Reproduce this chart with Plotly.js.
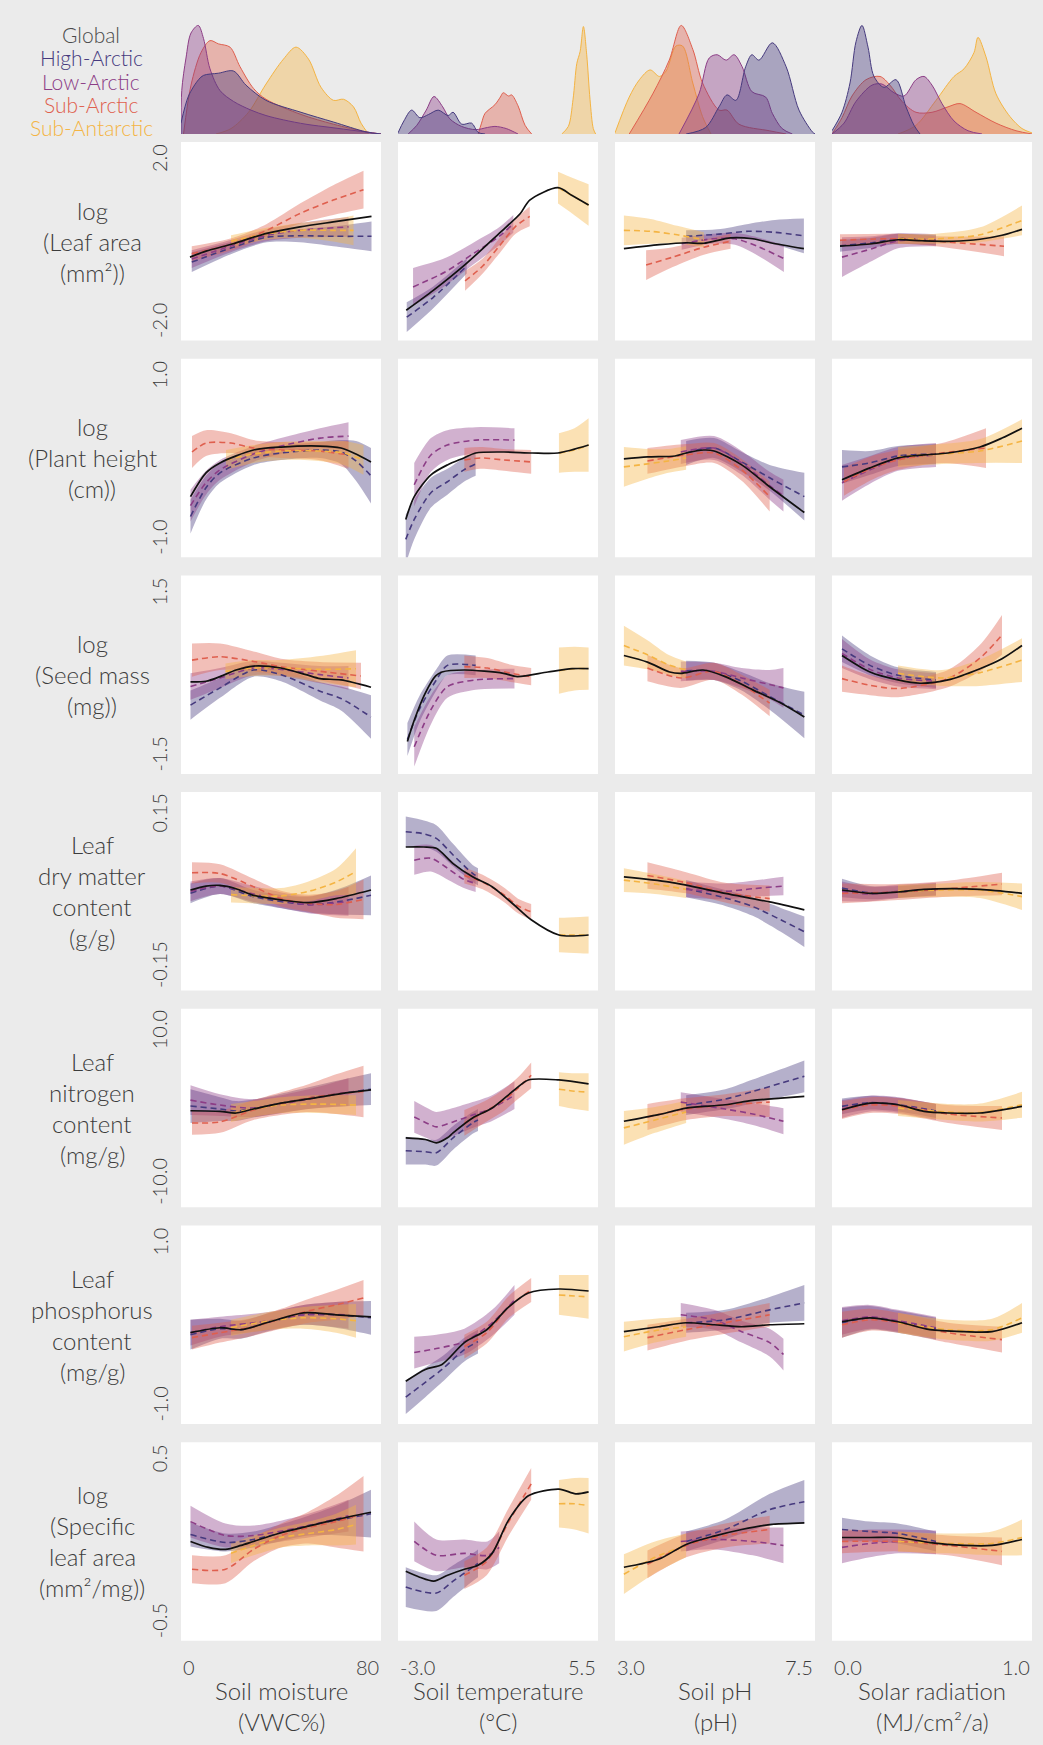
<!DOCTYPE html>
<html><head><meta charset="utf-8">
<script src="https://cdn.plot.ly/plotly-3.0.1.min.js"></script>
<style>html,body{margin:0;padding:0;background:#ebebeb;}#chart{width:1043px;height:1745px;}</style>
</head><body><div id="chart"></div>
<script>
// ---------------- labels ----------------
const seriesNames = ['Global','High-Arctic','Low-Arctic','Sub-Arctic','Sub-Antarctic'];
const rowLabels = [
  ['log','(Leaf area','(mm²))'],
  ['log','(Plant height','(cm))'],
  ['log','(Seed mass','(mg))'],
  ['Leaf','dry matter','content','(g/g)'],
  ['Leaf','nitrogen','content','(mg/g)'],
  ['Leaf','phosphorus','content','(mg/g)'],
  ['log','(Specific','leaf area','(mm²/mg))']
];
const xTitles = [['Soil moisture','(VWC%)'],['Soil temperature','(°C)'],['Soil pH','(pH)'],['Solar radiation','(MJ/cm²/a)']];
const xRanges = [[0,80],[-3,5.5],[3,7.5],[0,1]];
const xTickLabels = [['0','80'],['-3.0','5.5'],['3.0','7.5'],['0.0','1.0']];
const yRanges = [[-2,2],[-1,1],[-1.5,1.5],[-0.15,0.15],[-10,10],[-1,1],[-0.5,0.5]];
const yTickLabels = [['2.0','-2.0'],['1.0','-1.0'],['1.5','-1.5'],['0.15','-0.15'],['10.0','-10.0'],['1.0','-1.0'],['0.5','-0.5']];

// ---------------- densities: [High-Arctic, Low-Arctic, Sub-Arctic, Sub-Antarctic], points [x, relative density] ----------------
const dens_moist = [
  [[0,0.1],[3,0.35],[7,0.5],[9,0.54],[15,0.56],[21,0.58],[26,0.45],[34,0.31],[48,0.2],[61,0.11],[74,0.02],[80,0]],
  [[0,0],[0.3,0.4],[2,0.7],[4,0.93],[6.9,1.0],[9,0.88],[11.6,0.6],[15.6,0.4],[21,0.3],[28,0.22],[34,0.17],[41,0.13],[50,0.09],[60,0.06],[70,0.03],[80,0]],
  [[1,0],[4,0.45],[8,0.75],[11.6,0.86],[15,0.83],[19.6,0.8],[23.6,0.62],[29,0.42],[34,0.32],[48,0.18],[61,0.09],[74,0.02],[80,0]],
  [[14,0],[20,0.05],[27,0.2],[34,0.46],[41,0.69],[46,0.8],[51,0.69],[56,0.43],[61,0.31],[65,0.32],[69,0.25],[72,0.1],[75,0]]
];
const dens_temp = [
  [[-3.0,0.01],[-2.75,0.12],[-2.42,0.22],[-2.07,0.15],[-1.7,0.18],[-1.29,0.22],[-0.87,0.17],[-0.66,0.2],[-0.29,0.09],[0.13,0.1],[0.4,0.015],[0.7,0]],
  [[-2.57,0],[-2.2,0.08],[-1.8,0.22],[-1.47,0.345],[-1.1,0.25],[-0.8,0.14],[-0.3,0.07],[0.3,0.04],[0.8,0.06],[1.12,0.07],[1.6,0.05],[2.1,0]],
  [[0.41,0],[0.55,0.1],[0.7,0.19],[1.12,0.27],[1.35,0.34],[1.47,0.38],[1.7,0.35],[1.83,0.36],[2.1,0.26],[2.4,0.08],[2.68,0]],
  [[3.96,0],[4.24,0.07],[4.44,0.32],[4.6,0.65],[4.74,0.76],[4.88,0.99],[5.02,0.73],[5.16,0.32],[5.3,0.05],[5.4,0]]
];
const dens_ph = [
  [[4.6,0],[5.04,0.06],[5.34,0.25],[5.52,0.36],[5.72,0.31],[5.94,0.62],[6.08,0.73],[6.24,0.68],[6.54,0.84],[6.85,0.62],[7.14,0.22],[7.44,0.02],[7.5,0]],
  [[4.44,0],[4.89,0.37],[5.12,0.7],[5.3,0.73],[5.5,0.68],[5.68,0.73],[5.86,0.62],[6.08,0.39],[6.39,0.34],[6.54,0.19],[6.76,0.05],[6.99,0]],
  [[3.32,0],[3.85,0.37],[4.22,0.68],[4.49,1.0],[4.75,0.78],[4.97,0.47],[5.34,0.22],[5.52,0.22],[5.79,0.09],[6.47,0.03],[6.85,0]],
  [[3.0,0.01],[3.32,0.34],[3.55,0.5],[3.79,0.59],[4.0,0.53],[4.15,0.58],[4.37,0.81],[4.52,0.81],[4.75,0.47],[4.97,0.16],[5.16,0]]
];
const dens_solar = [
  [[0,0.03],[0.05,0.2],[0.09,0.47],[0.12,0.85],[0.15,1.0],[0.18,0.8],[0.21,0.53],[0.26,0.43],[0.32,0.5],[0.37,0.25],[0.41,0.08],[0.44,0]],
  [[0,0],[0.06,0.1],[0.12,0.3],[0.2,0.45],[0.25,0.46],[0.31,0.38],[0.36,0.35],[0.42,0.5],[0.46,0.53],[0.5,0.45],[0.55,0.28],[0.61,0.12],[0.68,0.03],[0.75,0]],
  [[0,0],[0.05,0.15],[0.1,0.35],[0.17,0.5],[0.24,0.53],[0.29,0.45],[0.35,0.3],[0.42,0.2],[0.5,0.2],[0.58,0.25],[0.64,0.28],[0.72,0.2],[0.82,0.1],[0.92,0.03],[1.0,0]],
  [[0.33,0],[0.42,0.08],[0.52,0.31],[0.61,0.53],[0.66,0.6],[0.71,0.75],[0.73,0.89],[0.77,0.71],[0.82,0.37],[0.89,0.16],[0.95,0.05],[1.0,0.01]]
];

// ---------------- fitted curves: [Global [x,y], High-Arctic, Low-Arctic, Sub-Arctic, Sub-Antarctic [x,y,halfCI]] ----------------
const leafArea_moist = [
  [[3.6,-0.32],[10,-0.2],[20.9,-0.05],[34.3,0.16],[47.6,0.29],[60.9,0.39],[76.2,0.5]],
  [[4.3,-0.42,0.2],[20.9,-0.12,0.12],[34.3,0.08,0.1],[47.6,0.11,0.13],[60.9,0.1,0.2],[76.2,0.1,0.3]],
  [[4.3,-0.36,0.18],[20.9,-0.08,0.12],[34.3,0.12,0.12],[47.6,0.22,0.15],[67,0.29,0.2]],
  [[4.3,-0.25,0.15],[20.9,-0.05,0.12],[34.3,0.22,0.13],[47.6,0.56,0.2],[60.9,0.83,0.3],[73,1.04,0.38]],
  [[20,0.0,0.12],[34.3,0.15,0.12],[47.6,0.22,0.15],[60,0.22,0.22],[69,0.22,0.3]]
];
const leafArea_temp = [
  [[-2.65,-1.39],[-1.5,-0.99],[-0.1,-0.45],[1.3,0.16],[2.2,0.56],[2.6,0.83],[3.8,1.08],[4.4,0.92],[5.1,0.73]],
  [[-2.63,-1.53,0.3],[-1.5,-1.13,0.22],[-0.08,-0.5,0.15]],
  [[-2.36,-0.92,0.38],[-1.0,-0.62,0.28],[0.2,-0.25,0.22],[1.3,0.1,0.18],[1.9,0.35,0.18]],
  [[-0.15,-0.8,0.2],[0.6,-0.5,0.15],[1.3,-0.1,0.15],[2.0,0.3,0.15],[2.6,0.5,0.2]],
  [[3.8,1.08,0.32],[4.4,0.92,0.36],[5.1,0.73,0.42]]
];
const leafArea_ph = [
  [[3.2,-0.15],[4.0,-0.07],[4.6,-0.03],[5.0,-0.04],[5.6,0.07],[6.1,0.05],[6.5,-0.03],[7.25,-0.15]],
  [[4.6,0.1,0.12],[5.3,0.14,0.1],[6.0,0.2,0.15],[6.6,0.18,0.25],[7.25,0.11,0.35]],
  [[4.5,-0.05,0.12],[5.2,0.05,0.1],[5.7,0.05,0.12],[6.2,-0.1,0.18],[6.8,-0.35,0.27]],
  [[3.7,-0.48,0.3],[4.3,-0.32,0.2],[5.0,-0.12,0.15],[5.6,0.0,0.15]],
  [[3.2,0.22,0.3],[3.8,0.2,0.25],[4.4,0.13,0.18],[5.0,0.03,0.15]]
];
const leafArea_solar = [
  [[0.04,-0.1],[0.2,-0.05],[0.33,0.03],[0.45,0.01],[0.6,0.0],[0.74,0.04],[0.85,0.12],[0.95,0.24]],
  [[0.04,-0.09,0.12],[0.2,-0.03,0.1],[0.33,0.05,0.1],[0.52,0.02,0.1]],
  [[0.05,-0.32,0.4],[0.2,-0.15,0.25],[0.33,0.01,0.15],[0.52,0.02,0.12]],
  [[0.04,0.02,0.12],[0.33,0.05,0.1],[0.52,0.0,0.1],[0.86,-0.1,0.2]],
  [[0.33,0.05,0.1],[0.52,0.05,0.1],[0.74,0.13,0.15],[0.95,0.42,0.3]]
];
const plantHeight_moist = [
  [[3.8,-0.39],[10,-0.15],[15.6,-0.05],[29,0.08],[40,0.11],[55.6,0.12],[64,0.1],[70,0.04],[76,-0.04]],
  [[3.8,-0.59,0.17],[10,-0.3,0.12],[15.6,-0.15,0.1],[29,0.0,0.07],[40,0.05,0.07],[55.6,0.08,0.08],[64,0.06,0.12],[70,-0.03,0.2],[76,-0.18,0.28]],
  [[3.8,-0.48,0.16],[10,-0.25,0.12],[15.6,-0.12,0.1],[29,0.04,0.08],[40,0.12,0.08],[55.6,0.2,0.1],[67,0.22,0.14]],
  [[4.4,0.06,0.16],[10,0.15,0.13],[20,0.15,0.1],[29,0.1,0.08],[40,0.08,0.08],[55,0.07,0.09],[67,0.03,0.14]],
  [[18,-0.02,0.1],[29,0.04,0.09],[40,0.07,0.09],[55,0.07,0.1],[65,0.05,0.12],[73,-0.02,0.15]]
];
const plantHeight_temp = [
  [[-2.67,-0.62],[-2.31,-0.39],[-1.6,-0.17],[-0.9,-0.07],[-0.2,0.0],[0.3,0.05],[1.5,0.06],[2.7,0.05],[3.8,0.05],[5.1,0.13]],
  [[-2.67,-0.82,0.25],[-2.31,-0.62,0.2],[-1.6,-0.35,0.15],[-0.9,-0.24,0.13],[-0.2,-0.12,0.12],[0.3,-0.06,0.12]],
  [[-2.31,-0.27,0.22],[-1.6,0.03,0.17],[-0.9,0.13,0.15],[0.3,0.18,0.13],[1.95,0.18,0.12]],
  [[-0.18,-0.02,0.12],[0.5,0.0,0.11],[1.5,-0.02,0.11],[2.66,-0.04,0.12]],
  [[3.84,0.05,0.2],[4.5,0.08,0.22],[5.1,0.13,0.27]]
];
const plantHeight_ph = [
  [[3.2,-0.01],[3.73,0.01],[4.35,0.02],[4.6,0.05],[5.0,0.08],[5.23,0.07],[5.85,-0.07],[6.48,-0.29],[7.26,-0.55]],
  [[4.6,0.05,0.12],[5.23,0.1,0.1],[5.85,-0.04,0.1],[6.48,-0.2,0.13],[7.26,-0.39,0.24]],
  [[4.48,0.06,0.12],[5.23,0.1,0.12],[5.85,-0.05,0.12],[6.48,-0.28,0.14],[6.79,-0.38,0.16]],
  [[3.73,-0.03,0.13],[4.6,0.03,0.11],[5.23,0.05,0.1],[5.85,-0.12,0.11],[6.48,-0.39,0.15]],
  [[3.2,-0.09,0.2],[3.73,-0.06,0.15],[4.2,-0.03,0.12],[4.6,0.0,0.12]]
];
const plantHeight_solar = [
  [[0.05,-0.22],[0.19,-0.1],[0.33,0.0],[0.46,0.03],[0.58,0.05],[0.74,0.11],[0.85,0.2],[0.95,0.3]],
  [[0.05,-0.09,0.17],[0.19,-0.05,0.12],[0.33,0.02,0.1],[0.52,0.04,0.1]],
  [[0.05,-0.25,0.18],[0.19,-0.12,0.14],[0.33,-0.01,0.12],[0.52,0.03,0.12]],
  [[0.06,-0.24,0.14],[0.2,-0.1,0.12],[0.33,-0.02,0.1],[0.55,0.05,0.1],[0.77,0.1,0.2]],
  [[0.33,0.01,0.1],[0.55,0.04,0.1],[0.74,0.07,0.12],[0.95,0.17,0.22]]
];
const seedMass_moist = [
  [[3.8,-0.11],[10,-0.1],[15.6,-0.03],[22,0.07],[29,0.13],[40,0.1],[50,0.0],[55.6,-0.06],[64,-0.08],[76,-0.19]],
  [[3.8,-0.46,0.22],[15.6,-0.2,0.15],[29,0.07,0.1],[40,0.0,0.1],[55.6,-0.25,0.14],[64,-0.36,0.18],[76,-0.64,0.33]],
  [[3.8,-0.18,0.2],[15.6,-0.05,0.15],[29,0.1,0.11],[40,0.08,0.1],[55.6,0.0,0.13],[67,-0.05,0.18]],
  [[4.4,0.22,0.25],[15.6,0.27,0.2],[29,0.2,0.15],[40,0.12,0.12],[55.6,0.05,0.14],[72,-0.02,0.2]],
  [[17.8,0.05,0.12],[29,0.1,0.12],[40,0.1,0.12],[55.6,0.08,0.2],[70,0.09,0.28]]
];
const seedMass_temp = [
  [[-2.6,-1.01],[-2.31,-0.69],[-1.84,-0.28],[-1.4,-0.02],[-1.13,0.04],[-0.18,0.07],[1.48,0.02],[2.07,-0.03],[3.37,0.04],[4.4,0.09],[5.1,0.09]],
  [[-2.6,-0.98,0.25],[-2.1,-0.53,0.2],[-1.37,-0.08,0.16],[-0.9,0.14,0.15],[0.3,0.14,0.15]],
  [[-2.31,-1.09,0.3],[-1.6,-0.53,0.22],[-0.9,-0.18,0.17],[0.3,-0.08,0.15],[1.95,-0.06,0.15]],
  [[-0.18,0.12,0.17],[0.8,0.1,0.15],[1.8,0.02,0.13],[2.66,-0.03,0.13]],
  [[3.84,0.06,0.35],[4.5,0.09,0.33],[5.1,0.09,0.32]]
];
const seedMass_ph = [
  [[3.2,0.29],[3.73,0.19],[4.23,0.04],[4.48,0.02],[4.98,0.07],[5.48,-0.03],[6.1,-0.23],[6.73,-0.43],[7.26,-0.64]],
  [[4.6,0.06,0.15],[5.23,0.05,0.13],[5.85,-0.1,0.14],[6.48,-0.33,0.2],[7.26,-0.61,0.35]],
  [[4.48,0.05,0.15],[5.23,0.05,0.13],[5.85,-0.05,0.15],[6.48,-0.15,0.22],[6.79,-0.2,0.3]],
  [[3.73,0.1,0.2],[4.48,-0.05,0.15],[5.23,0.05,0.13],[5.85,-0.15,0.15],[6.48,-0.43,0.2]],
  [[3.2,0.44,0.3],[3.73,0.3,0.22],[4.2,0.15,0.15],[4.6,0.07,0.13]]
];
const seedMass_solar = [
  [[0.05,0.29],[0.19,0.04],[0.33,-0.08],[0.44,-0.13],[0.58,-0.08],[0.74,0.09],[0.85,0.24],[0.95,0.44]],
  [[0.05,0.39,0.2],[0.19,0.14,0.15],[0.33,-0.01,0.12],[0.52,-0.08,0.12]],
  [[0.05,0.32,0.22],[0.19,0.08,0.15],[0.33,-0.05,0.13],[0.52,-0.1,0.12]],
  [[0.05,-0.06,0.2],[0.19,-0.16,0.15],[0.33,-0.21,0.13],[0.58,-0.06,0.13],[0.74,0.25,0.2],[0.85,0.6,0.3]],
  [[0.33,0.02,0.12],[0.55,-0.05,0.12],[0.74,0.03,0.2],[0.95,0.22,0.33]]
];
const ldmc_moist = [
  [[3.8,0.002],[10,0.008],[15.6,0.009],[22,0.004],[29,-0.006],[40,-0.013],[51,-0.017],[62,-0.011],[76,0.002]],
  [[3.8,-0.003,0.015],[15.6,0.008,0.012],[29,-0.008,0.01],[51,-0.02,0.012],[64,-0.015,0.02],[76,-0.006,0.03]],
  [[3.8,0.0,0.015],[15.6,0.008,0.012],[29,-0.004,0.012],[51,-0.02,0.013],[67,-0.015,0.022]],
  [[4.4,0.028,0.016],[15.6,0.027,0.014],[29,0.007,0.012],[40,-0.011,0.012],[51,-0.018,0.013],[62,-0.02,0.02],[73,-0.012,0.03]],
  [[20,-0.005,0.012],[40,-0.007,0.012],[51,0.0,0.015],[62,0.014,0.02],[70,0.03,0.035]]
];
const ldmc_temp = [
  [[-2.67,0.067],[-1.9,0.067],[-1.37,0.065],[-0.66,0.042],[0.17,0.022],[1.0,0.007],[1.95,-0.021],[2.66,-0.043],[3.84,-0.066],[5.1,-0.066]],
  [[-2.67,0.09,0.023],[-1.9,0.087,0.02],[-1.37,0.08,0.02],[-0.66,0.055,0.017],[0.17,0.027,0.013],[0.4,0.022,0.013]],
  [[-2.31,0.047,0.022],[-1.6,0.05,0.02],[-0.9,0.035,0.017],[-0.2,0.018,0.013],[0.3,0.012,0.013]],
  [[-0.18,0.024,0.012],[0.6,0.014,0.011],[1.5,-0.005,0.011],[2.1,-0.022,0.011],[2.66,-0.031,0.012]],
  [[3.84,-0.066,0.026],[4.5,-0.066,0.027],[5.1,-0.066,0.028]]
];
const ldmc_ph = [
  [[3.2,0.022],[4.23,0.014],[5.48,-0.003],[6.48,-0.016],[7.26,-0.028]],
  [[4.6,0.004,0.013],[5.48,-0.01,0.012],[6.1,-0.023,0.014],[6.73,-0.043,0.018],[7.26,-0.061,0.023]],
  [[4.6,0.003,0.012],[5.48,0.0,0.012],[6.1,0.004,0.012],[6.79,0.008,0.014]],
  [[3.73,0.024,0.02],[4.6,0.013,0.016],[5.48,-0.002,0.015],[6.48,-0.011,0.02]],
  [[3.2,0.017,0.018],[3.9,0.011,0.015],[4.6,0.003,0.013]]
];
const ldmc_solar = [
  [[0.05,0.002],[0.19,-0.003],[0.33,-0.001],[0.46,0.003],[0.74,0.003],[0.95,-0.003]],
  [[0.05,0.005,0.014],[0.19,-0.002,0.01],[0.33,-0.001,0.009],[0.52,0.003,0.009]],
  [[0.05,0.0,0.015],[0.19,-0.004,0.011],[0.33,0.0,0.01],[0.52,0.003,0.01]],
  [[0.05,-0.003,0.015],[0.33,-0.001,0.012],[0.58,0.004,0.012],[0.85,0.011,0.017]],
  [[0.33,0.0,0.01],[0.55,0.002,0.01],[0.74,0.002,0.012],[0.95,-0.008,0.02]]
];
const leafN_moist = [
  [[3.8,-0.27],[15.6,-0.33],[22,-0.5],[29,-0.1],[40,0.5],[53,1.0],[64,1.45],[76,1.83]],
  [[3.8,0.2,1.7],[15.6,-0.1,1.2],[22,-0.3,1.0],[29,-0.05,0.9],[51,1.0,1.1],[76,1.9,1.6]],
  [[3.8,0.8,1.5],[15.6,0.3,1.1],[29,0.0,0.9],[51,0.9,1.0],[67,1.6,1.4]],
  [[4.4,-1.5,1.2],[15.6,-1.4,1.1],[29,-0.2,1.0],[51,1.0,1.4],[62,1.4,2.0],[73,1.67,2.6]],
  [[20,-0.5,0.9],[29,-0.1,0.8],[40,0.3,0.8],[55,0.4,0.9],[70,0.3,1.0]]
];
const leafN_temp = [
  [[-2.67,-3.0],[-1.84,-3.17],[-1.37,-3.5],[-0.9,-3.0],[-0.66,-2.5],[0.17,-1.0],[1.0,0.0],[1.95,1.83],[2.54,2.83],[3.84,2.83],[5.1,2.43]],
  [[-2.67,-4.3,1.4],[-1.84,-4.4,1.3],[-1.37,-4.5,1.3],[-0.66,-3.0,1.2],[0.17,-1.5,1.1],[0.4,-1.2,1.1]],
  [[-2.31,-0.9,1.6],[-1.6,-1.7,1.5],[-1.37,-1.9,1.5],[-0.66,-1.4,1.4],[0.17,-0.7,1.3],[1.0,0.0,1.3],[1.95,1.3,1.4]],
  [[-0.18,-1.5,1.3],[0.6,-0.5,1.1],[1.5,0.8,1.1],[2.1,2.0,1.1],[2.66,3.3,1.3]],
  [[3.84,1.9,1.7],[4.5,1.7,1.8],[5.1,1.6,1.9]]
];
const leafN_ph = [
  [[3.2,-1.33],[3.98,-0.67],[4.6,0.0],[5.48,0.33],[6.1,0.77],[6.73,1.0],[7.26,1.17]],
  [[4.6,0.3,1.0],[5.48,0.9,1.0],[6.1,1.67,1.2],[6.73,2.5,1.4],[7.26,3.2,1.6]],
  [[4.48,0.6,1.0],[5.48,-0.1,1.0],[6.1,-0.6,1.1],[6.79,-1.33,1.3]],
  [[3.73,-0.9,1.3],[4.6,-0.1,1.1],[5.48,0.3,1.1],[6.48,0.6,1.5]],
  [[3.2,-2.0,1.7],[3.9,-1.2,1.3],[4.6,-0.4,1.1]]
];
const leafN_solar = [
  [[0.05,-0.17],[0.19,0.5],[0.33,0.33],[0.46,-0.33],[0.58,-0.5],[0.74,-0.5],[0.95,0.17]],
  [[0.05,0.17,0.8],[0.19,0.55,0.7],[0.33,0.35,0.7],[0.52,-0.3,0.7]],
  [[0.05,-0.1,0.9],[0.19,0.45,0.8],[0.33,0.3,0.8],[0.52,-0.4,0.8]],
  [[0.05,-0.2,0.9],[0.19,0.3,0.8],[0.33,0.2,0.8],[0.58,-0.6,0.9],[0.85,-1.0,1.2]],
  [[0.33,0.0,0.8],[0.58,-0.4,0.8],[0.74,-0.45,0.9],[0.95,0.33,1.3]]
];
const leafP_moist = [
  [[3.8,-0.08],[15.6,-0.03],[24,-0.05],[35.6,0.03],[49,0.12],[62,0.1],[76,0.08]],
  [[3.8,-0.1,0.15],[15.6,-0.04,0.1],[24,-0.05,0.09],[35.6,0.03,0.09],[49,0.1,0.1],[62,0.1,0.13],[76,0.07,0.17]],
  [[3.8,-0.08,0.13],[15.6,-0.02,0.1],[35.6,0.04,0.09],[49,0.1,0.1],[67,0.1,0.14]],
  [[4.4,-0.13,0.12],[15.6,-0.08,0.1],[29,-0.02,0.09],[40,0.06,0.1],[51,0.14,0.12],[62,0.2,0.15],[73,0.27,0.18]],
  [[20,-0.03,0.08],[35.6,0.04,0.09],[49,0.07,0.11],[62,0.06,0.14],[70,0.04,0.17]]
];
const leafP_temp = [
  [[-2.67,-0.57],[-1.84,-0.45],[-1.13,-0.4],[-0.18,-0.18],[0.77,-0.05],[1.71,0.18],[2.54,0.32],[3.84,0.36],[5.1,0.34]],
  [[-2.67,-0.73,0.17],[-1.84,-0.58,0.15],[-1.13,-0.45,0.13],[-0.18,-0.25,0.12],[0.4,-0.17,0.12]],
  [[-2.31,-0.28,0.16],[-1.37,-0.24,0.14],[-0.18,-0.17,0.13],[1.0,0.02,0.13],[1.95,0.25,0.15]],
  [[-0.18,-0.22,0.12],[0.77,-0.08,0.11],[1.71,0.18,0.11],[2.66,0.35,0.12]],
  [[3.84,0.3,0.2],[4.5,0.29,0.21],[5.1,0.28,0.22]]
];
const leafP_ph = [
  [[3.2,-0.07],[3.98,-0.02],[4.6,0.02],[5.23,0.0],[5.85,-0.02],[6.48,0.0],[7.26,0.01]],
  [[4.6,0.02,0.1],[5.48,0.05,0.1],[6.48,0.15,0.13],[7.26,0.22,0.18]],
  [[4.48,0.1,0.12],[5.23,0.05,0.1],[5.85,-0.07,0.11],[6.48,-0.18,0.14],[6.79,-0.3,0.16]],
  [[3.73,-0.13,0.13],[4.6,-0.05,0.11],[5.48,0.02,0.11],[6.48,0.1,0.12]],
  [[3.2,-0.12,0.15],[3.9,-0.06,0.12],[4.6,-0.02,0.1]]
];
const leafP_solar = [
  [[0.05,0.03],[0.19,0.07],[0.33,0.03],[0.49,-0.05],[0.66,-0.07],[0.8,-0.07],[0.95,0.02]],
  [[0.05,0.02,0.15],[0.19,0.07,0.12],[0.33,0.03,0.11],[0.52,-0.04,0.11]],
  [[0.05,0.04,0.14],[0.19,0.08,0.12],[0.33,0.04,0.11],[0.52,-0.03,0.11]],
  [[0.05,0.0,0.13],[0.19,0.05,0.11],[0.33,0.02,0.1],[0.58,-0.08,0.1],[0.85,-0.15,0.13]],
  [[0.33,0.02,0.1],[0.58,-0.05,0.1],[0.8,-0.05,0.11],[0.95,0.07,0.15]]
];
const sla_moist = [
  [[3.8,0.0],[11,-0.03],[17.8,-0.04],[24,-0.02],[29,0.0],[40,0.044],[51,0.077],[62,0.11],[76,0.147]],
  [[3.8,0.035,0.06],[17.8,-0.005,0.045],[29,0.01,0.04],[51,0.08,0.05],[64,0.11,0.08],[76,0.14,0.12]],
  [[3.8,0.1,0.08],[17.8,0.03,0.06],[29,0.03,0.05],[51,0.08,0.06],[67,0.13,0.08]],
  [[4.4,-0.14,0.07],[17.8,-0.14,0.07],[29,-0.04,0.06],[40,0.03,0.06],[51,0.07,0.08],[62,0.1,0.13],[73,0.14,0.19]],
  [[20,-0.06,0.05],[29,-0.02,0.05],[40,0.02,0.05],[51,0.04,0.06],[62,0.06,0.08],[70,0.085,0.1]]
];
const sla_temp = [
  [[-2.67,-0.15],[-2.08,-0.18],[-1.48,-0.2],[-0.89,-0.17],[-0.18,-0.14],[0.4,-0.12],[1.0,-0.06],[1.71,0.11],[2.54,0.23],[3.84,0.264],[4.55,0.24],[5.1,0.25]],
  [[-2.67,-0.23,0.1],[-1.37,-0.26,0.09],[-0.66,-0.2,0.08],[0.17,-0.13,0.07],[0.4,-0.11,0.07]],
  [[-2.31,0.0,0.1],[-1.37,-0.07,0.08],[-0.18,-0.06,0.07],[0.8,-0.07,0.07],[1.3,-0.03,0.08]],
  [[-0.18,-0.17,0.07],[0.77,-0.1,0.07],[1.71,0.1,0.07],[2.66,0.29,0.08]],
  [[3.84,0.19,0.12],[4.5,0.19,0.13],[5.1,0.18,0.14]]
];
const sla_ph = [
  [[3.2,-0.13],[3.98,-0.09],[4.6,-0.015],[5.23,0.027],[5.85,0.06],[6.48,0.085],[7.26,0.094]],
  [[4.6,0.0,0.05],[5.48,0.06,0.05],[6.48,0.16,0.08],[7.26,0.2,0.11]],
  [[4.48,0.0,0.05],[5.23,0.01,0.05],[6.1,0.0,0.07],[6.79,-0.02,0.09]],
  [[3.73,-0.115,0.07],[4.6,-0.02,0.06],[5.48,0.03,0.06],[6.48,0.06,0.07]],
  [[3.2,-0.165,0.1],[3.9,-0.08,0.08],[4.6,-0.02,0.06]]
];
const sla_solar = [
  [[0.05,0.02],[0.19,0.02],[0.33,0.02],[0.49,-0.006],[0.66,-0.02],[0.8,-0.02],[0.95,0.01]],
  [[0.05,0.06,0.06],[0.19,0.05,0.05],[0.33,0.04,0.05],[0.52,0.0,0.05]],
  [[0.05,-0.03,0.08],[0.19,-0.01,0.07],[0.33,0.0,0.06],[0.52,-0.005,0.06]],
  [[0.05,0.0,0.06],[0.33,0.0,0.05],[0.58,-0.02,0.05],[0.85,-0.05,0.07]],
  [[0.33,0.0,0.05],[0.58,-0.01,0.05],[0.8,-0.01,0.06],[0.95,0.02,0.09]]
];

const densityRow = [dens_moist, dens_temp, dens_ph, dens_solar];
const panelGrid = [
  [leafArea_moist, leafArea_temp, leafArea_ph, leafArea_solar],
  [plantHeight_moist, plantHeight_temp, plantHeight_ph, plantHeight_solar],
  [seedMass_moist, seedMass_temp, seedMass_ph, seedMass_solar],
  [ldmc_moist, ldmc_temp, ldmc_ph, ldmc_solar],
  [leafN_moist, leafN_temp, leafN_ph, leafN_solar],
  [leafP_moist, leafP_temp, leafP_ph, leafP_solar],
  [sla_moist, sla_temp, sla_ph, sla_solar]
];

// ---------------- styling / layout ----------------
const W = 1043, H = 1745;
const FONT = 'Lato, "Open Sans", sans-serif';
const TEXT = '#3c3c3c';
const WEIGHT = 300;
const globalColor = '#111111';
const regionColors = ['#463a7e', '#8c3d86', '#df5f4e', '#f4b443'];
const legendColors = ['#4a4a4a'].concat(regionColors);
const colLeft = c => 181 + 217 * c;
const panelW = 200, panelH = 198.5;
const rowTop = r => 142 + 216.7 * r;
const densTop = 20, densBottom = 134;
const px = v => v / W, py = v => 1 - v / H;
function rgba(hex, a) {
  const n = parseInt(hex.slice(1), 16);
  return `rgba(${(n >> 16) & 255},${(n >> 8) & 255},${n & 255},${a})`;
}
const axName = (l, k) => l + 'axis' + (k === 1 ? '' : k);
const axRef = (l, k) => l + (k === 1 ? '' : k);
const txtFont = (size, color) => ({family: FONT, size: size, color: color || TEXT, weight: WEIGHT});

const layout = {
  width: W, height: H, margin: {l: 0, r: 0, t: 0, b: 0},
  paper_bgcolor: '#ebebeb', plot_bgcolor: 'rgba(0,0,0,0)',
  showlegend: false, font: {family: FONT, color: TEXT},
  shapes: [], annotations: []
};
const traces = [];
const hidden = {visible: false, fixedrange: true, showgrid: false, zeroline: false};

// density row
densityRow.forEach((dens, c) => {
  const k = c + 1;
  layout[axName('x', k)] = Object.assign({}, hidden, {domain: [px(colLeft(c)), px(colLeft(c) + panelW)], range: xRanges[c], anchor: axRef('y', k)});
  layout[axName('y', k)] = Object.assign({}, hidden, {domain: [py(densBottom), py(densTop)], range: [0, 1.05], anchor: axRef('x', k)});
  [3, 2, 1, 0].forEach(i => {
    const d = dens[i];
    traces.push({
      type: 'scatter', mode: 'lines', x: d.map(p => p[0]), y: d.map(p => p[1]),
      fill: 'tozeroy', fillcolor: rgba(regionColors[i], 0.4),
      line: {color: regionColors[i], width: 1, shape: 'spline', smoothing: 0.9},
      xaxis: axRef('x', k), yaxis: axRef('y', k), hoverinfo: 'skip', name: seriesNames[i + 1]
    });
  });
});

// trait panels
panelGrid.forEach((row, r) => {
  row.forEach((panel, c) => {
    const k = 5 + r * 4 + c;
    const xa = axRef('x', k), ya = axRef('y', k);
    const top = rowTop(r), bottom = top + panelH;
    layout[axName('x', k)] = Object.assign({}, hidden, {domain: [px(colLeft(c)), px(colLeft(c) + panelW)], range: xRanges[c], anchor: ya});
    layout[axName('y', k)] = Object.assign({}, hidden, {domain: [py(bottom), py(top)], range: yRanges[r], anchor: xa});
    layout.shapes.push({type: 'rect', xref: xa + ' domain', yref: ya + ' domain', x0: 0, x1: 1, y0: 0, y1: 1,
      fillcolor: '#ffffff', line: {width: 0}, layer: 'below'});
    for (let i = 1; i <= 4; i++) {
      const d = panel[i];
      const xs = d.map(p => p[0]);
      traces.push({type: 'scatter', mode: 'lines', x: xs, y: d.map(p => p[1] - p[2]),
        line: {width: 0, shape: 'spline', smoothing: 0.8}, xaxis: xa, yaxis: ya, hoverinfo: 'skip'});
      traces.push({type: 'scatter', mode: 'lines', x: xs, y: d.map(p => p[1] + p[2]),
        fill: 'tonexty', fillcolor: rgba(regionColors[i - 1], 0.4),
        line: {width: 0, shape: 'spline', smoothing: 0.8}, xaxis: xa, yaxis: ya, hoverinfo: 'skip'});
    }
    for (let i = 1; i <= 4; i++) {
      const d = panel[i];
      traces.push({type: 'scatter', mode: 'lines', x: d.map(p => p[0]), y: d.map(p => p[1]),
        line: {color: regionColors[i - 1], width: 1.6, dash: '6px,4px', shape: 'spline', smoothing: 0.8},
        xaxis: xa, yaxis: ya, name: seriesNames[i]});
    }
    const g = panel[0];
    traces.push({type: 'scatter', mode: 'lines', x: g.map(p => p[0]), y: g.map(p => p[1]),
      line: {color: globalColor, width: 1.7, shape: 'spline', smoothing: 0.8},
      xaxis: xa, yaxis: ya, name: seriesNames[0]});
  });
});

// legend text
seriesNames.forEach((s, i) => {
  layout.annotations.push({xref: 'paper', yref: 'paper', x: px(91), y: py(35 + 23 * i),
    xanchor: 'center', yanchor: 'middle', showarrow: false, text: s, font: txtFont(21, legendColors[i])});
});
// row labels and y tick labels
rowLabels.forEach((lines, r) => {
  const top = rowTop(r), center = top + panelH / 2, sp = 31;
  lines.forEach((t, j) => {
    layout.annotations.push({xref: 'paper', yref: 'paper', x: px(92),
      y: py(center + (j - (lines.length - 1) / 2) * sp), xanchor: 'center', yanchor: 'middle',
      showarrow: false, text: t, font: txtFont(24)});
  });
  layout.annotations.push({xref: 'paper', yref: 'paper', x: px(159), y: py(top), xanchor: 'center', yanchor: 'top',
    textangle: -90, showarrow: false, text: yTickLabels[r][0], font: txtFont(20)});
  layout.annotations.push({xref: 'paper', yref: 'paper', x: px(159), y: py(top + panelH), xanchor: 'center', yanchor: 'bottom',
    textangle: -90, showarrow: false, text: yTickLabels[r][1], font: txtFont(20)});
});
// x tick labels and titles
xTitles.forEach((lines, c) => {
  const L = colLeft(c);
  layout.annotations.push({xref: 'paper', yref: 'paper', x: px(L), y: py(1667), xanchor: 'left', yanchor: 'middle',
    showarrow: false, text: xTickLabels[c][0], font: txtFont(20)});
  layout.annotations.push({xref: 'paper', yref: 'paper', x: px(L + panelW), y: py(1667), xanchor: 'right', yanchor: 'middle',
    showarrow: false, text: xTickLabels[c][1], font: txtFont(20)});
  lines.forEach((t, j) => {
    layout.annotations.push({xref: 'paper', yref: 'paper', x: px(L + panelW / 2), y: py(1690 + 31 * j),
      xanchor: 'center', yanchor: 'middle', showarrow: false, text: t, font: txtFont(24)});
  });
});

Plotly.newPlot('chart', traces, layout, {staticPlot: true, displayModeBar: false});
</script>
</body></html>
